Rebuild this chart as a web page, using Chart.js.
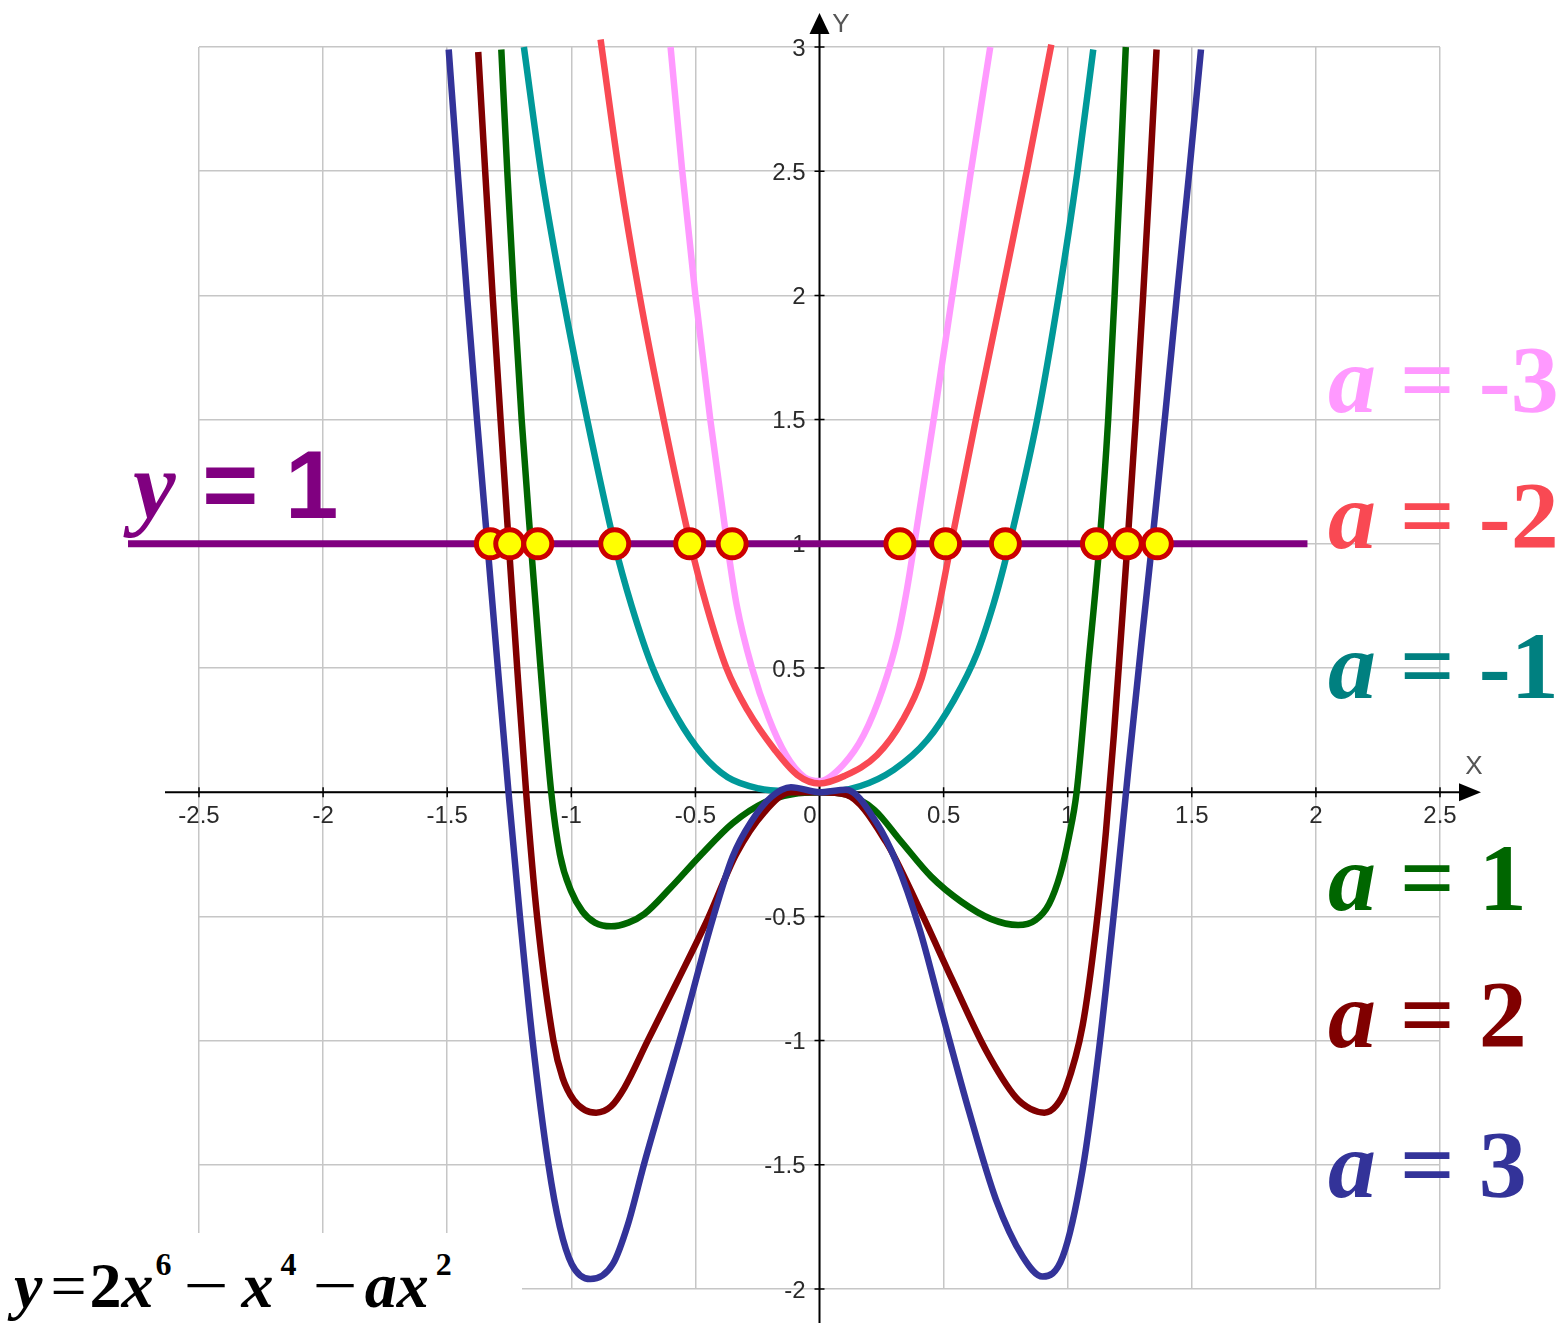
<!DOCTYPE html>
<html>
<head>
<meta charset="utf-8">
<title>y = 2x^6 - x^4 - ax^2</title>
<script src="https://cdn.jsdelivr.net/npm/chart.js@4.4.1/dist/chart.umd.min.js"></script>
<style>
  body { margin: 0; background: #fff; }
  #wrap { position: relative; width: 1559px; height: 1323px; overflow: hidden; }
  #plot { position: absolute; left: 0; top: 0; }
  .tag { position: absolute; white-space: pre; line-height: 1; font-family: "Liberation Serif", "Times New Roman", serif; font-weight: bold; font-size: 96px; }
  .tag i { font-style: italic; }
  .yl { font-family: "Liberation Sans", Arial, sans-serif; color: #800080; }
  .yl i { font-family: "Liberation Serif", "Times New Roman", serif; }
  #formula { position: absolute; left: 0; top: 1233px; width: 522px; height: 90px; background: #fff; }
  #formula .f { position: absolute; left: 14px; top: 16px; white-space: nowrap; line-height: 1;
                font: bold 64px "Liberation Serif", "Times New Roman", serif; color: #000; }
  #formula i { font-style: italic; }
  #formula .eq { font-weight: normal; margin: 0 3px 0 8px; }
  #formula .sup { font-size: 32px; position: relative; top: -32px; margin-left: 2px; }
  #formula .mi { display: inline-block; font-weight: normal; transform: scaleX(1.25); }
</style>
</head>
<body>
<div id="wrap">
  <canvas id="plot" width="1559" height="1323"></canvas>

  <div class="tag" style="left:1328px; top:332px; color:#ff99ff"><i>a</i> = -3</div>
  <div class="tag" style="left:1328px; top:468px; color:#f94953"><i>a</i> = -2</div>
  <div class="tag" style="left:1328px; top:618px; color:#008080"><i>a</i> = -1</div>
  <div class="tag" style="left:1328px; top:830px; color:#006600"><i>a</i> = 1</div>
  <div class="tag" style="left:1328px; top:967px; color:#800000"><i>a</i> = 2</div>
  <div class="tag" style="left:1328px; top:1117px; color:#333399"><i>a</i> = 3</div>

  <div class="tag yl" style="left:133px; top:437px"><i>y</i> = 1</div>

  <div id="formula"><span class="f"><i>y</i><span class="eq">=</span>2<i>x</i><span class="sup">6</span><span class="mi" style="margin:0 18px 0 16px">−</span><i>x</i><span class="sup" style="margin-left:7px">4</span><span class="mi" style="margin:0 12px 0 20px">−</span><i>ax</i><span class="sup" style="margin-left:7px">2</span></span></div>
</div>

<script>
// axis ticks
const xTicks = [-2.5, -2, -1.5, -1, -0.5, 0, 0.5, 1, 1.5, 2, 2.5];
const yTicks = [-2, -1.5, -1, -0.5, 0, 0.5, 1, 1.5, 2, 2.5, 3];

// a = -3
const pinkX = [-0.600, -0.553, -0.500, -0.440, -0.372, -0.333, -0.272, -0.205, -0.135, -0.060, 0.000,
               0.095, 0.178, 0.256, 0.314, 0.353, 0.382, 0.460, 0.535, 0.610, 0.688];
const pinkY = [3.00, 2.50, 2.00, 1.50, 1.00, 0.75, 0.50, 0.30, 0.15, 0.06, 0.045,
               0.11, 0.23, 0.42, 0.62, 0.82, 1.00, 1.50, 2.00, 2.50, 3.00];

// a = -2
const redX = [-0.882, -0.808, -0.725, -0.628, -0.520, -0.455, -0.375, -0.290, -0.180, -0.090, 0.000,
              0.100, 0.232, 0.335, 0.412, 0.475, 0.530, 0.630, 0.733, 0.835, 0.934];
const redY = [3.03, 2.50, 2.00, 1.50, 1.00, 0.75, 0.50, 0.33, 0.17, 0.07, 0.035,
              0.065, 0.15, 0.29, 0.46, 0.72, 1.00, 1.50, 2.00, 2.50, 3.01];

// a = -1
const tealX = [-1.191, -1.122, -1.035, -0.936, -0.826, -0.757, -0.672, -0.573, -0.470, -0.370, -0.245, -0.110, 0.000,
               0.165, 0.299, 0.434, 0.541, 0.635, 0.702, 0.743, 0.770, 0.877, 0.964, 1.038, 1.103];
const tealY = [3.00, 2.50, 2.00, 1.50, 1.00, 0.75, 0.50, 0.30, 0.15, 0.06, 0.015, 0.002, 0.00,
               0.025, 0.09, 0.21, 0.37, 0.56, 0.76, 0.91, 1.02, 1.50, 2.00, 2.49, 2.99];

// a = 1
const greenX = [-1.282, -1.258, -1.231, -1.200, -1.163, -1.124, -1.081, -1.046, -1.000, -0.955, -0.905, -0.840, -0.770,
                -0.705, -0.600, -0.480, -0.350, -0.220, -0.110, 0.000, 0.110, 0.220, 0.330, 0.450, 0.570, 0.690,
                0.800, 0.870, 0.925, 0.970, 1.005, 1.036, 1.082, 1.128, 1.163, 1.189, 1.212, 1.234];
const greenY = [2.99, 2.50, 2.00, 1.50, 1.00, 0.50, 0.00, -0.25, -0.40, -0.48, -0.525, -0.54, -0.525,
                -0.49, -0.385, -0.255, -0.125, -0.04, -0.008, 0.00, -0.01, -0.07, -0.20, -0.34, -0.44, -0.51,
                -0.535, -0.515, -0.45, -0.33, -0.18, 0.00, 0.50, 1.00, 1.50, 2.00, 2.50, 3.00];

// a = 2
const maroonX = [-1.375, -1.347, -1.317, -1.285, -1.252, -1.218, -1.182, -1.138, -1.072, -1.035, -0.990, -0.945,
                 -0.900, -0.840, -0.786, -0.692, -0.572, -0.450, -0.336, -0.222, -0.115, 0.000, 0.107, 0.268,
                 0.403, 0.537, 0.671, 0.792, 0.850, 0.906, 0.955, 0.993, 1.060, 1.114, 1.154, 1.186, 1.214,
                 1.243, 1.274, 1.304, 1.332, 1.358];
const maroonY = [2.98, 2.50, 2.00, 1.50, 1.00, 0.50, 0.00, -0.50, -1.00, -1.15, -1.24, -1.28,
                 -1.29, -1.265, -1.19, -1.00, -0.76, -0.51, -0.25, -0.08, 0.00, 0.00, -0.01, -0.20,
                 -0.47, -0.76, -1.04, -1.23, -1.275, -1.29, -1.26, -1.19, -0.94, -0.55, -0.16, 0.23, 0.62,
                 1.03, 1.50, 2.00, 2.50, 2.99];

// a = 3
const blueX = [-1.494, -1.458, -1.420, -1.380, -1.338, -1.296, -1.253, -1.207, -1.156, -1.092, -1.046, -0.998,
               -0.923, -0.833, -0.772, -0.705, -0.564, -0.430, -0.350, -0.276, -0.195, -0.115, 0.000, 0.107,
               0.228, 0.309, 0.403, 0.497, 0.604, 0.711, 0.819, 0.899, 0.980, 1.060, 1.128, 1.190,
               1.245, 1.297, 1.345, 1.393, 1.440, 1.490, 1.537];
const blueY = [2.99, 2.50, 2.00, 1.50, 1.00, 0.50, 0.00, -0.50, -1.00, -1.50, -1.75, -1.90,
               -1.96, -1.90, -1.74, -1.49, -1.00, -0.51, -0.26, -0.12, -0.02, 0.02, 0.00, 0.01,
               -0.12, -0.28, -0.55, -0.90, -1.29, -1.64, -1.87, -1.95, -1.87, -1.52, -1.02, -0.45,
               0.10, 0.60, 1.05, 1.52, 2.00, 2.50, 2.99];

// the line y = 1 and where the curves meet it
const lineY = 1;
const lineXRange = [-2.786, 1.966];
const hitX = [-1.326, -1.248, -1.135, -0.825, -0.523, -0.352, 0.324, 0.508, 0.749, 1.116, 1.240, 1.361];

const toPoints = (xs, ys) => xs.map((x, i) => ({ x: x, y: ys[i] }));

function curve(xs, ys, color) {
    return {
        data: toPoints(xs, ys),
        borderColor: color,
        borderWidth: 6.5,
        pointRadius: 0,
        fill: false,
        clip: false,
        cubicInterpolationMode: 'monotone'
    };
}

const tickFont = '24px "Liberation Sans Narrow", "Liberation Sans", Arial, sans-serif';

// axes with arrows, tick marks and labels, drawn under the curves
const axesPlugin = {
    id: 'axesPlugin',
    beforeDatasetsDraw(chart) {
        const { ctx, scales: { x, y } } = chart;
        const x0 = x.getPixelForValue(0);
        const y0 = y.getPixelForValue(0);
        ctx.save();
        ctx.strokeStyle = '#000';
        ctx.fillStyle = '#000';
        ctx.lineWidth = 2;

        ctx.beginPath();
        ctx.moveTo(165, y0);
        ctx.lineTo(1462, y0);
        ctx.moveTo(x0, 1323);
        ctx.lineTo(x0, 30);
        ctx.stroke();

        ctx.beginPath();
        ctx.moveTo(1481, y0);
        ctx.lineTo(1459, y0 - 9);
        ctx.lineTo(1459, y0 + 9);
        ctx.closePath();
        ctx.fill();

        ctx.beginPath();
        ctx.moveTo(x0, 13);
        ctx.lineTo(x0 - 10, 34);
        ctx.lineTo(x0 + 10, 34);
        ctx.closePath();
        ctx.fill();

        ctx.lineWidth = 1.5;
        ctx.beginPath();
        xTicks.forEach(v => {
            if (v === 0) return;
            const px = x.getPixelForValue(v);
            ctx.moveTo(px, y0 - 5);
            ctx.lineTo(px, y0 + 5);
        });
        yTicks.forEach(v => {
            if (v === 0) return;
            const py = y.getPixelForValue(v);
            ctx.moveTo(x0 - 5, py);
            ctx.lineTo(x0 + 5, py);
        });
        ctx.stroke();

        ctx.font = tickFont;
        ctx.fillStyle = '#2a2a2a';
        ctx.textBaseline = 'middle';
        ctx.textAlign = 'center';
        xTicks.forEach(v => {
            if (v === 0) return;
            ctx.fillText(String(v), x.getPixelForValue(v), y0 + 24);
        });
        ctx.textAlign = 'right';
        ctx.fillText('0', x0 - 3, y0 + 24);
        yTicks.forEach(v => {
            if (v === 0) return;
            ctx.fillText(String(v), x0 - 14, y.getPixelForValue(v) + 2);
        });

        ctx.font = '26px "Liberation Sans", Arial, sans-serif';
        ctx.fillStyle = '#555';
        ctx.textAlign = 'center';
        ctx.fillText('X', 1474, 767);
        ctx.fillText('Y', 841, 25);
        ctx.restore();
    }
};

new Chart(document.getElementById('plot'), {
    type: 'line',
    data: {
        datasets: [
            {
                data: hitX.map(x => ({ x: x, y: lineY })),
                showLine: false,
                pointRadius: 14,
                pointBorderWidth: 5,
                pointBackgroundColor: '#ffff00',
                pointBorderColor: '#cc0000',
                clip: false
            },
            {
                data: lineXRange.map(x => ({ x: x, y: lineY })),
                borderColor: '#800080',
                borderWidth: 7,
                pointRadius: 0,
                clip: false
            },
            curve(blueX, blueY, '#333399'),
            curve(maroonX, maroonY, '#800000'),
            curve(greenX, greenY, '#006600'),
            curve(tealX, tealY, '#009999'),
            curve(redX, redY, '#f94953'),
            curve(pinkX, pinkY, '#ff99ff')
        ]
    },
    options: {
        responsive: false,
        animation: false,
        events: [],
        layout: { padding: { left: 199, right: 119, top: 47, bottom: 34 } },
        plugins: {
            legend: { display: false },
            tooltip: { enabled: false }
        },
        scales: {
            x: {
                type: 'linear',
                min: -2.5,
                max: 2.5,
                position: { y: 0 },
                afterBuildTicks: s => { s.ticks = xTicks.map(v => ({ value: v })); },
                ticks: { display: false },
                grid: { color: '#c6c6c6', lineWidth: 1.5, drawTicks: false },
                border: { display: false }
            },
            y: {
                type: 'linear',
                min: -2,
                max: 3,
                position: { x: 0 },
                afterBuildTicks: s => { s.ticks = yTicks.map(v => ({ value: v })); },
                ticks: { display: false },
                grid: { color: '#c6c6c6', lineWidth: 1.5, drawTicks: false },
                border: { display: false }
            }
        }
    },
    plugins: [axesPlugin]
});
</script>
</body>
</html>
